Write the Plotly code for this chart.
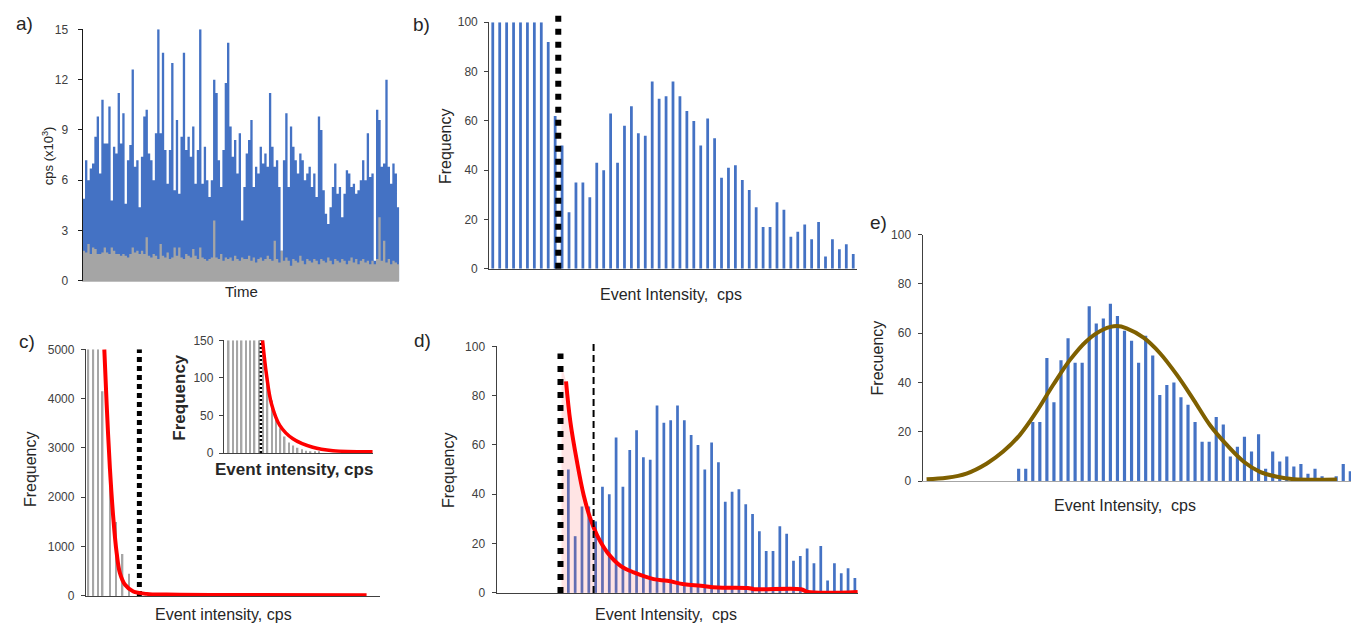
import plotly.graph_objects as go

W, H = 1351, 641          # figure size (page is photographed slightly squeezed vertically)
SY, OY = 0.972, 7.8       # observed vertical mapping of the photo: shown_y = OY + SY * fig_y
FONT = "Arial, 'Liberation Sans', sans-serif"

# ---------------- data ----------------
# a) time trace (cps x10^3): total signal (blue) and background (gray)
a_blue = [4.9, 7.2, 6.0, 6.7, 7.0, 8.6, 9.8, 6.4, 10.8, 8.2,
          8.2, 10.4, 4.8, 8.0, 7.6, 11.2, 8.2, 10.0, 4.6, 7.2,
          8.1, 12.6, 6.8, 7.2, 4.4, 7.4, 9.8, 10.2, 7.6, 7.2,
          6.0, 8.8, 15.0, 8.8, 13.6, 7.8, 5.8, 7.8, 13.0, 5.4,
          9.6, 5.2, 8.6, 13.6, 7.8, 8.6, 7.4, 9.2, 5.8, 7.8,
          15.0, 5.8, 8.0, 6.0, 5.0, 6.0, 12.0, 11.2, 7.2, 5.6,
          7.8, 11.8, 14.2, 9.2, 7.4, 8.4, 6.4, 8.8, 3.6, 5.6,
          7.6, 8.4, 9.6, 5.6, 6.8, 6.4, 8.0, 7.0, 7.6, 6.8,
          11.2, 8.0, 6.8, 7.2, 5.6, 1.8, 7.2, 10.0, 5.6, 9.2,
          8.0, 7.2, 6.4, 7.6, 7.2, 6.0, 6.4, 6.8, 5.6, 6.4,
          5.0, 9.8, 9.0, 5.4, 4.0, 3.4, 4.4, 5.6, 7.0, 5.2,
          5.6, 3.8, 5.2, 6.6, 6.4, 5.6, 5.8, 5.2, 5.4, 6.0,
          7.2, 6.0, 8.8, 6.2, 6.4, 1.2, 10.2, 9.6, 6.8, 7.0,
          12.0, 6.8, 5.8, 7.0, 6.4, 4.4]
a_gray = [1.8, 1.7, 2.2, 1.6, 2.0, 1.9, 1.6, 1.6, 1.7, 2.0,
          1.7, 1.6, 2.0, 1.8, 1.6, 1.6, 1.5, 1.6, 1.5, 1.4,
          1.6, 2.0, 1.7, 1.8, 1.6, 1.8, 1.6, 2.6, 1.5, 1.4,
          1.6, 1.5, 1.3, 2.2, 1.5, 1.4, 1.7, 1.3, 1.4, 2.0,
          1.5, 2.0, 1.4, 1.3, 1.6, 1.5, 1.4, 1.9, 1.5, 1.3,
          2.0, 1.4, 1.3, 1.2, 1.3, 1.4, 3.6, 1.4, 1.3, 1.6,
          1.2, 1.4, 1.3, 1.4, 1.2, 1.5, 1.3, 1.2, 1.4, 1.3,
          1.3, 1.5, 1.2, 1.4, 1.1, 1.3, 1.4, 1.2, 1.3, 1.5,
          1.3, 1.2, 2.4, 1.3, 1.1, 1.8, 1.2, 1.4, 1.2, 0.9,
          1.3, 1.2, 1.1, 1.5, 1.2, 1.0, 1.3, 1.2, 1.1, 1.3,
          1.2, 1.0, 1.3, 1.2, 1.1, 1.4, 1.2, 1.0, 1.3, 1.2,
          1.1, 1.3, 1.2, 1.0, 1.2, 1.4, 1.1, 1.3, 1.0, 1.2,
          1.3, 1.1, 1.2, 1.0, 1.2, 1.0, 1.3, 3.8, 1.2, 2.4,
          1.1, 1.3, 1.0, 1.2, 1.1, 1.0]
a_ticks = [0, 3, 6, 9, 12, 15]

# b) / d) event-intensity histogram (bins 0..52), y clipped at 100
b_freq = [100, 100, 100, 100, 100, 100, 100, 100, 92, 62,
          50, 23, 35, 35, 29, 43, 40, 63, 43, 58,
          66, 55, 54, 76, 69, 70, 76, 70, 64, 60,
          50, 61, 53, 37, 41, 42, 36, 32, 25, 17,
          17, 27, 24, 13, 15, 18, 12, 19, 5, 12,
          8, 10, 6]
b_threshold = 9.45
freq_ticks = [0, 20, 40, 60, 80, 100]

d_first_bin = 10
d_threshold = 8.85
d_threshold2 = 13.7
d_fit_x = [9.66, 10.29, 11.27, 12.25, 13.24, 14.22, 15.69, 17.65, 19.6, 22.5,
           24.5, 26.96, 29.4, 31.9, 36.3, 37.25, 44.1, 45.1, 52.4]
d_fit_y = [85.8, 69.5, 53.2, 39.6, 30.0, 23.3, 16.5, 11.0, 8.3, 5.6,
           4.9, 3.5, 2.9, 2.2, 2.0, 1.5, 1.5, 0.4, 0.4]

# c) background histogram with fitted decay
c_x = [0.0, 1.15, 2.24, 3.3, 5.0, 6.4, 7.9, 9.4]
c_freq = [5000, 5000, 5000, 4150, 2560, 1500, 850, 450]
c_threshold = 11.8
c_fit_x = [3.7, 4.25, 5.0, 5.8, 6.55, 7.3, 8.5, 10.4, 13.5, 18.1, 64.3]
c_fit_y = [5000, 3875, 2580, 1555, 873, 464, 225, 89, 41, 27, 14]
c_ticks = [0, 1000, 2000, 3000, 4000, 5000]

# c) inset (zoom of the same histogram)
ci_freq = [150, 150, 150, 150, 150, 150, 150, 150, 150, 100,
           70, 48, 33, 22, 14, 10, 7, 5, 3, 2, 2, 1]
ci_threshold = 7.46
ci_fit_x = [7.85, 8.77, 9.9, 11.85, 14.9, 19.5, 24.2, 33.4]
ci_fit_y = [150, 104, 66, 36.8, 18.9, 7.6, 3.1, 1.8]
ci_ticks = [0, 50, 100, 150]

# e) corrected histogram with gaussian fit
e_freq = [5, 5, 24, 24, 50, 32, 49, 58, 48, 48,
          71, 64, 66, 72, 67, 61, 57, 48, 59, 51,
          35, 39, 40, 34, 31, 24, 16, 16, 26, 23,
          10, 14, 18, 12, 19, 5, 12, 8, 10, 6,
          7, 3, 5, 2, 0, 2, 7, 4]
e_fit_x = [-13.05, -10.2, -7.4, -4.5, -2.2, 0.18, 2.55, 4.9, 7.3, 9.6,
           12.0, 13.9, 15.3, 17.7, 20.0, 22.4, 24.8, 27.1, 29.5, 31.9,
           34.2, 36.6, 39.0, 45.1]
e_fit_y = [0.8, 1.4, 3.1, 7.2, 12.0, 18.8, 28.3, 39.1, 49.3, 56.8,
           61.5, 62.9, 62.0, 58.2, 52.0, 43.2, 33.0, 22.8, 14.7, 7.9,
           3.8, 1.8, 0.8, 0.7]

# ---------------- styles ----------------
BLUE = "#4472C4"
GRAY = "#A5A5A5"
GRAYBAR = "#A6A6A6"
RED = "#FF0000"
BROWN = "#7F6000"
AXC = "#404040"
TXT = "#262626"


def fy(target_px):
    """target position in the photo -> paper fraction of the figure"""
    y = (target_px - OY) / SY
    return 1 - y / H


def hdom(x0, x1):
    return [x0 / W, min(x1 / W, 1.0)]


def vdom(top, bottom):
    return [fy(bottom), fy(top)]


fig = go.Figure()

# a) stepped area traces (time series)
a_t = list(range(len(a_blue) + 1))
fig.add_trace(go.Scatter(x=a_t, y=a_blue + [a_blue[-1]], mode="lines", line_shape="hv",
                         line=dict(width=0, color=BLUE), fill="tozeroy", fillcolor=BLUE,
                         xaxis="x", yaxis="y"))
fig.add_trace(go.Scatter(x=a_t, y=a_gray + [a_gray[-1]], mode="lines", line_shape="hv",
                         line=dict(width=0, color=GRAY), fill="tozeroy", fillcolor=GRAY,
                         xaxis="x", yaxis="y"))

# b)
fig.add_trace(go.Bar(x=list(range(len(b_freq))), y=b_freq, width=0.4,
                     marker=dict(color=BLUE, line=dict(width=0)),
                     xaxis="x2", yaxis="y2"))

# c) main
fig.add_trace(go.Bar(x=c_x, y=c_freq, width=0.4,
                     marker=dict(color=GRAYBAR, line=dict(width=0)),
                     xaxis="x3", yaxis="y3"))
fig.add_trace(go.Scatter(x=[c_threshold, c_threshold], y=[0, c_ticks[-1]], mode="lines",
                         line=dict(color="black", width=5, dash="5px,4px"),
                         xaxis="x3", yaxis="y3"))
fig.add_trace(go.Scatter(x=c_fit_x, y=c_fit_y, mode="lines", line_shape="spline",
                         line=dict(color=RED, width=4), xaxis="x3", yaxis="y3"))

# c) inset
fig.add_trace(go.Bar(x=list(range(len(ci_freq))), y=ci_freq, width=0.35,
                     marker=dict(color=GRAYBAR, line=dict(width=0)),
                     xaxis="x4", yaxis="y4"))
fig.add_trace(go.Scatter(x=[ci_threshold, ci_threshold], y=[0, ci_ticks[-1]], mode="lines",
                         line=dict(color="black", width=2.5, dash="2px,2px"),
                         xaxis="x4", yaxis="y4"))
fig.add_trace(go.Scatter(x=ci_fit_x, y=ci_fit_y, mode="lines", line_shape="spline",
                         line=dict(color=RED, width=3.5), xaxis="x4", yaxis="y4"))

# d)
d_x = list(range(d_first_bin, len(b_freq)))
fig.add_trace(go.Bar(x=d_x, y=b_freq[d_first_bin:], width=0.4,
                     marker=dict(color=BLUE, line=dict(width=0)),
                     xaxis="x5", yaxis="y5"))
fig.add_trace(go.Scatter(x=[d_threshold + 0.15] + d_fit_x, y=[92] + d_fit_y, mode="lines",
                         line_shape="spline", line=dict(width=0),
                         fill="tozeroy", fillcolor="rgba(255,90,90,0.16)",
                         xaxis="x5", yaxis="y5"))
fig.add_trace(go.Scatter(x=d_fit_x, y=d_fit_y, mode="lines", line_shape="spline",
                         line=dict(color=RED, width=4), xaxis="x5", yaxis="y5"))

# e)
fig.add_trace(go.Bar(x=list(range(len(e_freq))), y=e_freq, width=0.45,
                     marker=dict(color=BLUE, line=dict(width=0)),
                     xaxis="x6", yaxis="y6"))
fig.add_trace(go.Scatter(x=e_fit_x, y=e_fit_y, mode="lines", line_shape="spline",
                         line=dict(color=BROWN, width=4), xaxis="x6", yaxis="y6"))

# threshold lines reaching above the plot tops (b, d)
shapes = [
    dict(type="line", xref="x2", yref="paper", x0=b_threshold, x1=b_threshold,
         y0=fy(268), y1=fy(14), line=dict(color="black", width=6, dash="6px,7px")),
    dict(type="line", xref="x5", yref="paper", x0=d_threshold, x1=d_threshold,
         y0=fy(590), y1=fy(352), line=dict(color="black", width=6, dash="6px,7px")),
    dict(type="line", xref="x5", yref="paper", x0=d_threshold2, x1=d_threshold2,
         y0=fy(590), y1=fy(342), line=dict(color="black", width=2, dash="7px,4px")),
]


def xax(dom, rng, anchor, lc=AXC, lw=1.3):
    return dict(domain=dom, range=rng, anchor=anchor, showline=True, linecolor=lc,
                linewidth=lw, showticklabels=False, ticks="", showgrid=False,
                zeroline=False, fixedrange=True)


def yax(dom, rng, anchor, tv, lc=AXC, standoff=3, tl=4):
    return dict(domain=dom, range=rng, anchor=anchor, showline=True, linecolor=lc,
                linewidth=1.3, tickmode="array", tickvals=tv,
                ticks="outside", ticklen=tl, tickcolor=lc, tickwidth=1,
                tickfont=dict(size=12, color=AXC, family=FONT),
                ticklabelstandoff=standoff, showgrid=False, zeroline=False,
                fixedrange=True)


def ann(text, x, y, size=16, angle=0):
    return dict(text=text, x=x / W, y=fy(y), xref="paper", yref="paper",
                showarrow=False, textangle=angle, xanchor="center", yanchor="middle",
                font=dict(size=size, color=TXT, family=FONT))


annotations = [
    ann("a)", 24, 24, 19), ann("b)", 421, 25, 19), ann("c)", 27, 340, 19),
    ann("d)", 422, 339, 19), ann("e)", 878, 222, 19),
    ann("cps (x10<sup>3</sup>)", 48, 156, 13, -90),
    ann("Time", 241, 291, 15),
    ann("Frequency", 445, 146, 16, -90),
    ann("Event Intensity,&nbsp; cps", 671, 293, 16),
    ann("Frequency", 30, 467, 16, -90),
    ann("Event intensity, cps", 223, 611, 16),
    ann("<b>Frequency</b>", 180, 396, 17, -90),
    ann("<b>Event intensity, cps</b>", 294, 467, 17),
    ann("Frequency", 448, 468, 16, -90),
    ann("Event Intensity,&nbsp; cps", 666, 611, 16),
    ann("Frecuency", 877, 357, 16, -90),
    ann("Event Intensity,&nbsp; cps", 1125, 503, 16),
]

fig.update_layout(
    width=W, height=H, autosize=False,
    margin=dict(l=0, r=0, t=0, b=0, pad=0),
    paper_bgcolor="white", plot_bgcolor="rgba(0,0,0,0)",
    showlegend=False, barmode="overlay",
    font=dict(family=FONT, color=TXT),
    xaxis=xax(hdom(82.7, 399.3), [0, len(a_blue)], "y", lc="#BFBFBF"),
    yaxis=yax(vdom(30, 280), [0, 15], "x", a_ticks, lc="#1A1A1A", standoff=7),
    xaxis2=xax(hdom(489.3, 856.7), [-0.5, 52.5], "y2"),
    yaxis2=yax(vdom(23, 268), [0, 100], "x2", freq_ticks, standoff=4),
    xaxis3=xax(hdom(86, 380), [-0.53, 67.4], "y3"),
    yaxis3=yax(vdom(348, 593), [0, 5000], "x3", c_ticks, standoff=4),
    xaxis4=xax(hdom(224, 373), [-1.1, 33.5], "y4"),
    yaxis4=yax(vdom(339, 451), [0, 150], "x4", ci_ticks, standoff=3),
    xaxis5=xax(hdom(496.7, 858.3), [-0.5, 52.5], "y5"),
    yaxis5=yax(vdom(345, 590), [0, 100], "x5", freq_ticks, standoff=4),
    xaxis6=xax(hdom(922.7, 1351), [-13.6, 47.1], "y6", lc="#A6A6A6"),
    yaxis6=yax(vdom(234, 479), [0, 100], "x6", freq_ticks, standoff=4),
    shapes=shapes,
    annotations=annotations,
)

post = (
    "var gd=document.getElementById('{plot_id}');"
    "var de=document.documentElement;de.style.margin='0';de.style.padding='0';de.style.overflow='hidden';"
    "document.body.style.margin='0';document.body.style.padding='0';document.body.style.overflow='hidden';"
    "gd.style.position='fixed';gd.style.left='0px';gd.style.top='0px';"
)

fig.write_html("out.html", config={"displayModeBar": False}, post_script=post)
